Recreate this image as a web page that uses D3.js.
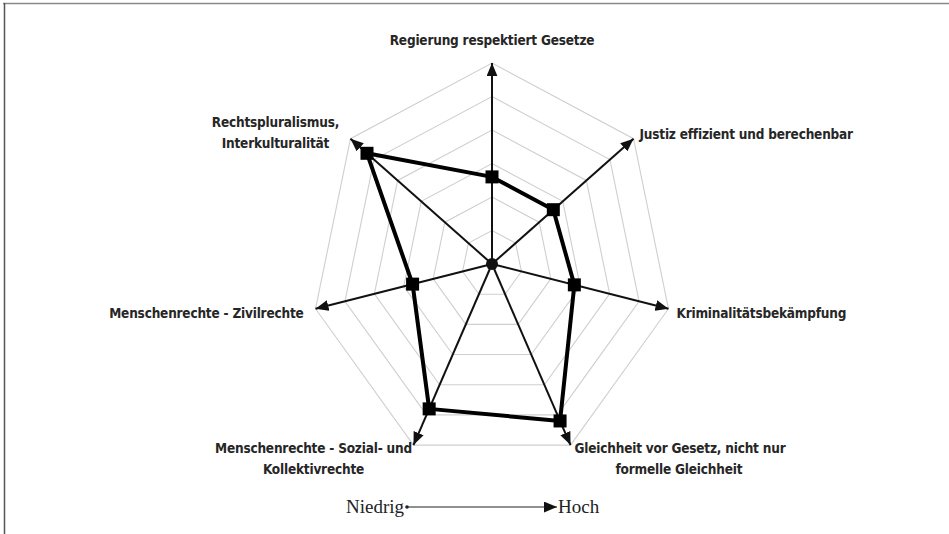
<!DOCTYPE html>
<html>
<head>
<meta charset="utf-8">
<script src="https://cdn.jsdelivr.net/npm/d3@7"></script>
<style>
	body { margin: 0; background: #fff; }
	.lbl { font-family: 'Liberation Sans Narrow', 'DejaVu Sans Condensed', 'Open Sans', sans-serif; font-weight: bold; font-size: 13.5px; letter-spacing: -0.2px; fill: #262626; }
	.leg { font-family: 'Liberation Serif', 'DejaVu Serif', serif; font-size: 19px; fill: #222; }
</style>
</head>
<body>
<div id="draw"></div>
<script>
// axis names (clockwise from top), one array of lines per axis
const axes = [
	['Regierung respektiert Gesetze'],
	['Justiz effizient und berechenbar'],
	['Kriminalitätsbekämpfung'],
	['Gleichheit vor Gesetz, nicht nur', 'formelle Gleichheit'],
	['Menschenrechte - Sozial- und', 'Kollektivrechte'],
	['Menschenrechte - Zivilrechte'],
	['Rechtspluralismus,', 'Interkulturalität'],
];
const values = [2.6, 2.6, 2.8, 5.2, 4.8, 2.7, 5.3];
const rings = [1, 2, 3, 4, 5, 6];
const legendLow = 'Niedrig';
const legendHigh = 'Hoch';

// label placement relative to each axis tip
const labelPos = [
	{ anchor: 'middle', dx: [0], dy: -18 },
	{ anchor: 'start', dx: [6], dy: 0 },
	{ anchor: 'start', dx: [8], dy: 9 },
	{ anchor: 'start', dx: [4, 45], dy: 8 },
	{ anchor: 'middle', dx: [-100, -100], dy: 8 },
	{ anchor: 'end', dx: [-12], dy: 9 },
	{ anchor: 'middle', dx: [-75, -75], dy: -12 },
];

var width = 949,
	height = 534,
	cx = 492,
	cy = 264;

var svg = d3
	.select('#draw')
	.append('svg')
	.attr('width', width)
	.attr('height', height);

// frame (top and left edge only)
svg.append('line').attr('x1', 3).attr('y1', 3.5).attr('x2', width).attr('y2', 3.5)
	.attr('stroke', '#8a8a8a').attr('stroke-width', 1.5);
svg.append('line').attr('x1', 4.5).attr('y1', 3).attr('x2', 4.5).attr('y2', height)
	.attr('stroke', '#555').attr('stroke-width', 1.5);

var defs = svg.append('defs');
defs.append('marker')
	.attr('id', 'arrow')
	.attr('viewBox', '0 0 12 10')
	.attr('refX', 12)
	.attr('refY', 5)
	.attr('markerUnits', 'userSpaceOnUse')
	.attr('markerWidth', 13)
	.attr('markerHeight', 11)
	.attr('orient', 'auto')
	.append('path')
	.attr('d', 'M0,0 L12,5 L0,10 Z')
	.attr('fill', '#111');

// radial scales (the chart is a bit narrower than tall)
var rx = d3.scaleLinear().domain([0, 6]).range([0, 181]);
var ry = d3.scaleLinear().domain([0, 6]).range([0, 201]);
var angle = d3.scaleLinear().domain([0, axes.length]).range([-Math.PI / 2, (3 * Math.PI) / 2]);

function pt(i, v) {
	var a = angle(i);
	return [cx + rx(v) * Math.cos(a), cy + ry(v) * Math.sin(a)];
}

// grid rings
svg.append('g')
	.selectAll('path')
	.data(rings)
	.enter()
	.append('path')
	.attr('d', function (r) {
		return d3.line()(axes.map((d, i) => pt(i, r))) + 'Z';
	})
	.attr('fill', 'none')
	.attr('stroke', '#cfcfcf')
	.attr('stroke-width', 1.1);

// axis arrows
svg.append('g')
	.selectAll('line')
	.data(axes)
	.enter()
	.append('line')
	.attr('x1', cx)
	.attr('y1', cy)
	.attr('x2', (d, i) => pt(i, 6)[0])
	.attr('y2', (d, i) => pt(i, 6)[1])
	.attr('stroke', '#111')
	.attr('stroke-width', 2)
	.attr('marker-end', 'url(#arrow)');

svg.append('circle').attr('cx', cx).attr('cy', cy).attr('r', 6).attr('fill', '#111');

// data polygon
svg.append('path')
	.attr('d', d3.line()(values.map((v, i) => pt(i, v))) + 'Z')
	.attr('fill', 'none')
	.attr('stroke', '#000')
	.attr('stroke-width', 4)
	.attr('stroke-linejoin', 'round');

svg.append('g')
	.selectAll('rect')
	.data(values)
	.enter()
	.append('rect')
	.attr('x', (v, i) => pt(i, v)[0] - 6.5)
	.attr('y', (v, i) => pt(i, v)[1] - 6.5)
	.attr('width', 13)
	.attr('height', 13)
	.attr('fill', '#000');

// labels
axes.forEach(function (lines, i) {
	var tip = pt(i, 6),
		p = labelPos[i];
	var t = svg.append('text')
		.attr('class', 'lbl')
		.attr('text-anchor', p.anchor);
	lines.forEach(function (s, j) {
		t.append('tspan')
			.attr('x', tip[0] + p.dx[j])
			.attr('y', tip[1] + p.dy + j * 21)
			.text(s);
	});
});

// legend Niedrig -> Hoch
var lx = d3.scaleLinear().domain([0, 1]).range([407, 557]);
var ly = 507;
svg.append('text').attr('class', 'leg').attr('x', lx(0) - 3).attr('y', ly + 6)
	.attr('text-anchor', 'end').text(legendLow);
svg.append('circle').attr('cx', lx(0)).attr('cy', ly).attr('r', 1.8).attr('fill', '#222');
svg.append('line').attr('x1', lx(0)).attr('y1', ly).attr('x2', lx(1)).attr('y2', ly)
	.attr('stroke', '#222').attr('stroke-width', 1.2).attr('marker-end', 'url(#arrow)');
svg.append('text').attr('class', 'leg').attr('x', lx(1) + 1).attr('y', ly + 6).text(legendHigh);
</script>
</body>
</html>
